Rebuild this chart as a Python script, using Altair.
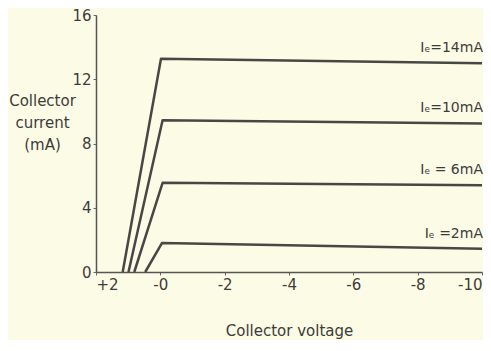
import altair as alt
import pandas as pd

# Series
labels = ["Iₑ =2mA", "Iₑ = 6mA", "Iₑ=10mA", "Iₑ=14mA"]
base_v = [0.47, 0.81, 0.99, 1.17]        # collector voltage where current leaves zero
corner_v = [-0.05, -0.07, -0.07, -0.02]  # knee voltage
corner_i = [1.80, 5.55, 9.45, 13.28]     # current at knee (mA)
end_v = [-10, -10, -10, -10]
end_i = [1.45, 5.40, 9.25, 13.00]        # current at -10 V (mA)

x_ticks = [2, 0, -2, -4, -6, -8, -10]
y_ticks = [0, 4, 8, 12, 16]

rows = []
for k, lab in enumerate(labels):
    rows.append({"series": lab, "order": 0, "v": base_v[k], "i": 0.0})
    rows.append({"series": lab, "order": 1, "v": corner_v[k], "i": corner_i[k]})
    rows.append({"series": lab, "order": 2, "v": end_v[k], "i": end_i[k]})
df = pd.DataFrame(rows)
lab_df = pd.DataFrame({"series": labels, "v": end_v, "i": end_i})

FONT = "DejaVu Sans"
INK = "#3c3c3a"
BG = "#fcfbe6"

x_scale = alt.Scale(domain=[2, -10], nice=False, zero=False)
y_scale = alt.Scale(domain=[0, 16], nice=False)

x_axis = alt.Axis(
    values=x_ticks,
    labelExpr="datum.value > 0 ? '+' + datum.value : (datum.value == 0 ? '-0 ' : '-' + abs(datum.value) + ' ')",
    title="Collector voltage",
    titleFont=FONT, titleFontSize=15, titleFontWeight="normal", titleColor=INK,
    titleY=63, titleBaseline="alphabetic",
    labelFont=FONT, labelFontSize=15, labelColor=INK, labelPadding=2,
    tickSize=3, tickColor="#666", domainColor="#555", domainWidth=1.5, grid=False,
)
y_axis = alt.Axis(
    values=y_ticks,
    title=["Collector", "current", "(mA)"],
    titleAngle=0, titleAlign="center", titleBaseline="top",
    titleX=-54, titleY=78, titleLineHeight=22,
    titleFont=FONT, titleFontSize=15, titleFontWeight="normal", titleColor=INK,
    labelFont=FONT, labelFontSize=15, labelColor=INK, labelPadding=2,
    tickSize=3, tickColor="#666", domainColor="#555", domainWidth=1.5, grid=False,
)

lines = alt.Chart(df).mark_line(color="#474745", strokeWidth=2.5, strokeJoin="round").encode(
    x=alt.X("v:Q", scale=x_scale, axis=x_axis),
    y=alt.Y("i:Q", scale=y_scale, axis=y_axis),
    detail="series:N",
    order="order:Q",
)

texts = alt.Chart(lab_df).mark_text(
    align="right", baseline="alphabetic", dx=1, dy=-11,
    font=FONT, fontSize=14, color=INK,
).encode(
    x=alt.X("v:Q", scale=x_scale),
    y=alt.Y("i:Q", scale=y_scale),
    text="series:N",
)

chart = (
    alt.layer(lines, texts)
    .properties(
        width=386, height=257,
        autosize=alt.AutoSizeParams(type="none"),
        padding={"left": 88, "top": 7, "right": 1, "bottom": 68},
        background=BG,
    )
    .configure_view(stroke=None)
)

chart.save("out.html", embed_options={"renderer": "svg", "actions": False})
